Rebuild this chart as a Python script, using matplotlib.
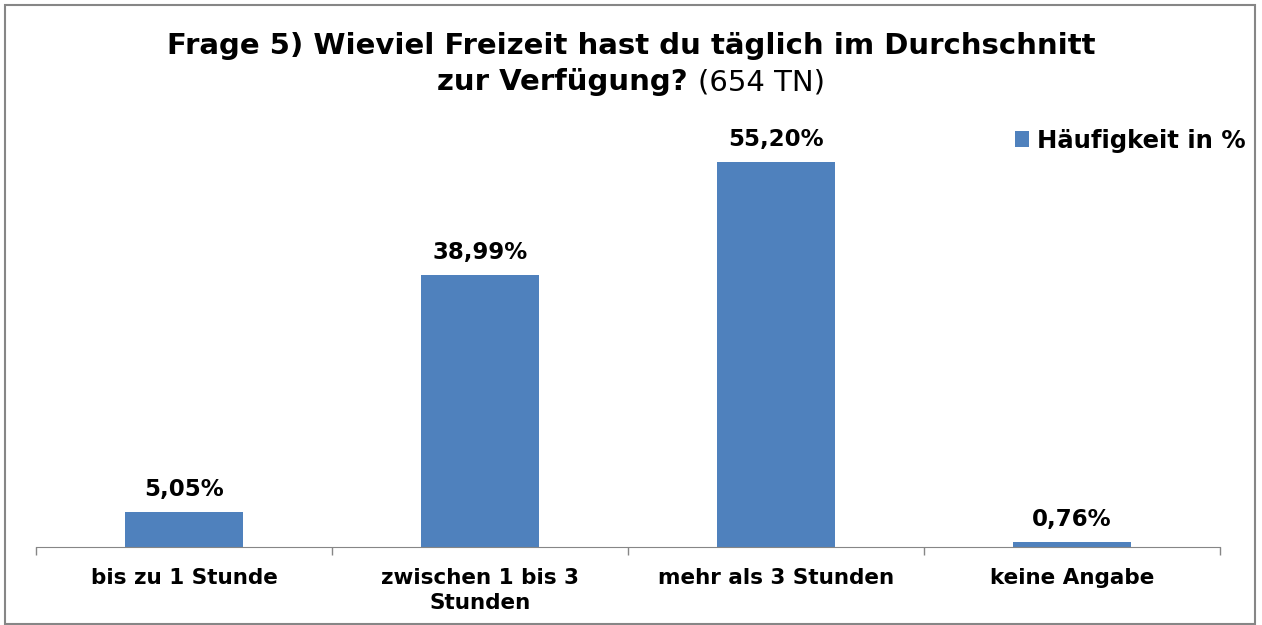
import matplotlib
matplotlib.use("Agg")
import matplotlib.pyplot as plt
import numpy as np
from matplotlib.patches import Rectangle

categories = ["bis zu 1 Stunde", "zwischen 1 bis 3\nStunden",
              "mehr als 3 Stunden", "keine Angabe"]
values = [5.05, 38.99, 55.20, 0.76]
series_name = "Häufigkeit in %"

bar_color = "#4F81BD"
plt.rcParams['font.family'] = 'DejaVu Sans'

fig = plt.figure(figsize=(12.62, 6.25), dpi=100)
ax = fig.add_axes([36 / 1262, 78 / 625, (1220 - 36) / 1262, (547 - 128.5) / 625])

x = np.arange(len(categories))
bars = ax.bar(x, values, 0.4, color=bar_color, label=series_name)
ax.set_xlim(-0.5, len(categories) - 0.5)
ax.set_ylim(0, 60)

for rect, v in zip(bars, values):
    txt = ("%.2f%%" % v).replace(".", ",")
    ax.annotate(txt, (rect.get_x() + rect.get_width() / 2, v),
                xytext=(0, 16), textcoords="offset points",
                ha="center", va="center", fontsize=16.5, fontweight="bold")

# axis styling
for s in ["top", "right", "left"]:
    ax.spines[s].set_visible(False)
ax.spines["bottom"].set_color("#868686")
ax.set_yticks([])
ax.set_xticks(np.arange(len(categories) + 1) - 0.5, minor=True)
ax.set_xticks(x)
ax.set_xticklabels(categories, fontsize=15.5, fontweight="bold", linespacing=1.35)
ax.tick_params(axis="x", which="major", length=0, pad=15)
ax.tick_params(axis="x", which="minor", length=6, color="#868686", width=1)

leg = ax.legend(loc="upper left", bbox_to_anchor=(1005 / 1262, 1 - 119 / 625),
                bbox_transform=fig.transFigure, frameon=False,
                prop={"size": 17.5, "weight": "bold"},
                handlelength=0.6, handleheight=0.6, handletextpad=0.3,
                borderaxespad=0)

# title: line 1 bold, line 2 bold + normal part
fig.text(0.5, 1 - 46 / 625, "Frage 5) Wieviel Freizeit hast du täglich im Durchschnitt",
         ha="center", va="center", fontsize=21, fontweight="bold")
renderer = fig.canvas.get_renderer()
t_bold = fig.text(0, 1 - 82 / 625, "zur Verfügung? ", ha="left", va="center",
                  fontsize=21, fontweight="bold")
t_norm = fig.text(0, 1 - 82 / 625, "(654 TN)", ha="left", va="center",
                  fontsize=21)
w1 = t_bold.get_window_extent(renderer).width
w2 = t_norm.get_window_extent(renderer).width
start = (1262 - (w1 + w2)) / 2
t_bold.set_x(start / 1262)
t_norm.set_x((start + w1) / 1262)

# chart border
fig.patches.append(Rectangle((5 / 1262, 1 / 625), 1250 / 1262, 619 / 625,
                             transform=fig.transFigure, fill=False,
                             edgecolor="#868686", linewidth=1.5))

fig.savefig("out.png", dpi=100)
